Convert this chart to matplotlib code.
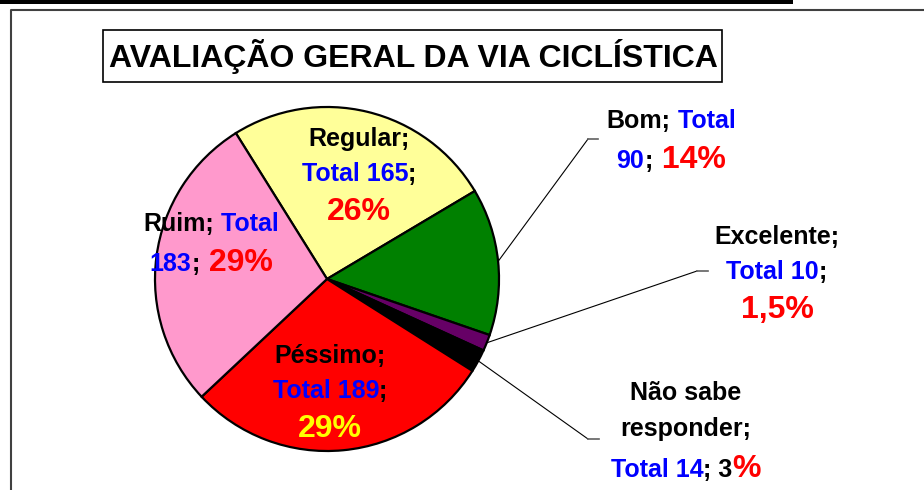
import matplotlib
matplotlib.use("Agg")
import numpy as np
import matplotlib.pyplot as plt
from matplotlib.patches import Rectangle
from matplotlib.offsetbox import TextArea, HPacker, VPacker, AnnotationBbox

titulo = "AVALIAÇÃO GERAL DA VIA CICLÍSTICA"
categorias = ["Regular", "Bom", "Excelente", "Não sabe responder", "Péssimo", "Ruim"]
totais = [165, 90, 10, 14, 189, 183]
percentuais = ["26%", "14%", "1,5%", "3%", "29%", "29%"]
cores = ["#FFFF99", "#008000", "#660066", "#000000", "#FF0000", "#FF99CC"]

plt.rcParams['font.family'] = ['Liberation Sans', 'DejaVu Sans']

W, H = 924, 490
fig = plt.figure(figsize=(W / 100, H / 100), dpi=100)
ax = fig.add_axes([0, 0, 1, 1])

# pie in pixel coordinates (y axis inverted -> counterclock in data = clockwise on screen)
cx, cy, r = 327, 279, 172
wedges, _ = ax.pie(totais, colors=cores, startangle=-122, counterclock=True,
                   center=(cx, cy), radius=r,
                   wedgeprops=dict(edgecolor="black", linewidth=1.6))
ax.set_xlim(0, W)
ax.set_ylim(H, 0)
ax.set_aspect("auto")
ax.axis("off")

# page frame
ax.add_patch(Rectangle((0, 0), 793, 4.5, color="black", lw=0))
ax.plot([11, 11, W], [H, 10, 10], color="#404040", lw=1.5)

# title box
ax.add_patch(Rectangle((103, 30), 619, 52, fc="white", ec="black", lw=1.2))
ax.text(413, 57, titulo, ha="center", va="center", fontsize=23, fontweight="bold")

K, B, R, Y = "black", "#0000FF", "#FF0000", "#FFFF00"
fs, fb = 18, 23


def rotulo(x, y, linhas, sep=8):
    rows = []
    for linha in linhas:
        partes = [TextArea(t, textprops=dict(color=c, fontsize=s, fontweight="bold"))
                  for t, c, s in linha]
        rows.append(HPacker(children=partes, align="baseline", pad=0, sep=0))
    box = VPacker(children=rows, align="center", pad=0, sep=sep)
    ax.add_artist(AnnotationBbox(box, (x, y), xycoords="data", frameon=False,
                                 box_alignment=(0.5, 0.5)))


# Regular
rotulo(359, 177, [[(categorias[0] + ";", K, fs)],
                  [(f"Total {totais[0]}", B, fs), (";", K, fs)],
                  [(percentuais[0], R, fb)]])
# Ruim
rotulo(211, 245, [[(categorias[5] + ";", K, fs), (" Total", B, fs)],
                  [(str(totais[5]), B, fs), (";", K, fs), (" " + percentuais[5], R, fb)]])
# Péssimo
rotulo(330, 394, [[(categorias[4] + ";", K, fs)],
                  [(f"Total {totais[4]}", B, fs), (";", K, fs)],
                  [(percentuais[4], Y, fb)]])
# Bom
rotulo(671, 142, [[(categorias[1] + ";", K, fs), (" Total", B, fs)],
                  [(str(totais[1]), B, fs), (";", K, fs), (" " + percentuais[1], R, fb)]])
# Excelente
rotulo(777, 275, [[(categorias[2] + ";", K, fs)],
                  [(f"Total {totais[2]}", B, fs), (";", K, fs)],
                  [(percentuais[2], R, fb)]])
# Não sabe responder
nome = categorias[3].rsplit(" ", 1)
rotulo(686, 432, [[(nome[0], K, fs)],
                  [(nome[1] + ";", K, fs)],
                  [(f"Total {totais[3]}", B, fs), ("; " + percentuais[3][:-1], K, fs),
                   ("%", R, fb)]], sep=9)

# leader lines from wedge midpoints
ancoras = {1: (588, 139, 598), 2: (697, 271, 708), 3: (588, 439, 599)}
for i, (lx, ly, hx) in ancoras.items():
    w = wedges[i]
    t = np.deg2rad((w.theta1 + w.theta2) / 2)
    sx, sy = cx + r * np.cos(t), cy + r * np.sin(t)
    ax.plot([sx, lx], [sy, ly], color="black", lw=0.8)
    ax.plot([lx, hx], [ly, ly], color="#606060", lw=1.2)

fig.savefig("out.png", dpi=100)
